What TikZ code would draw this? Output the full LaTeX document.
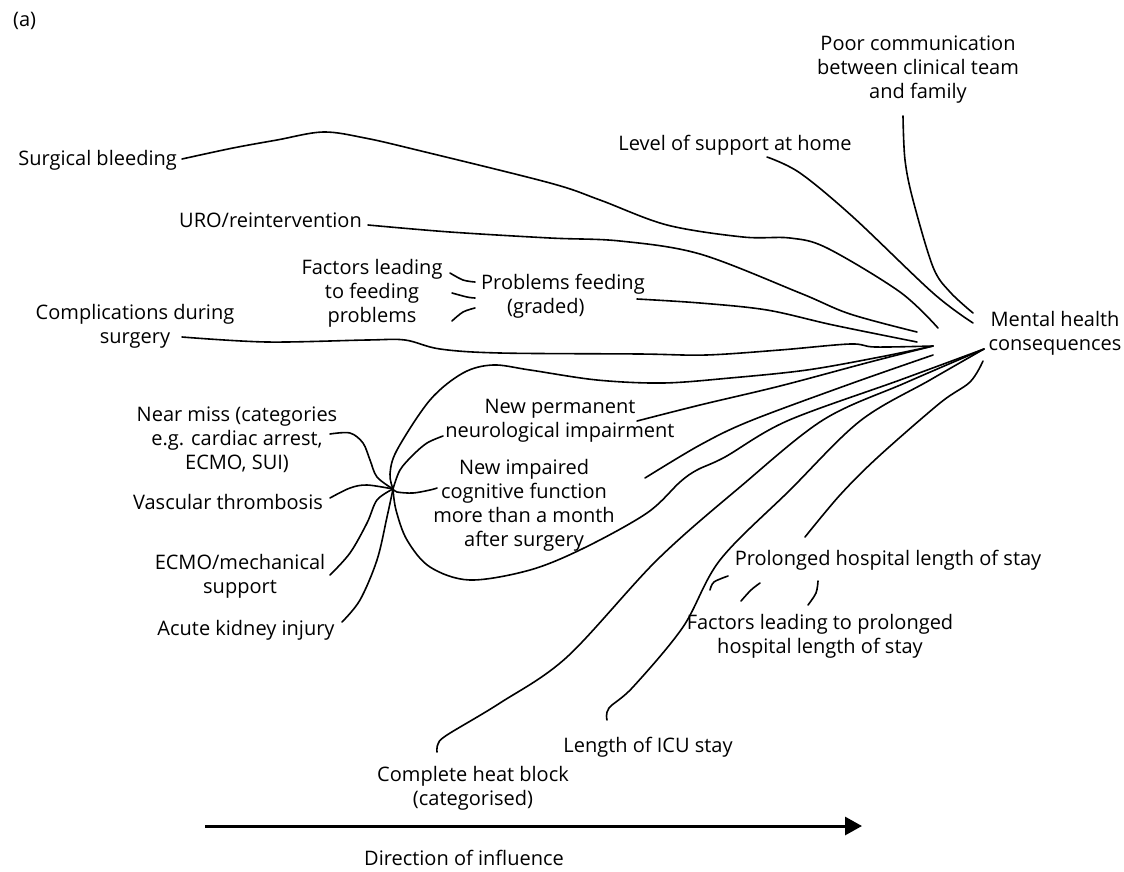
\documentclass[tikz,border=0pt]{standalone}
\usepackage{fontspec}
\setmainfont{Open Sans}
\usetikzlibrary{arrows.meta}
\begin{document}
\begin{tikzpicture}[x=1pt,y=-1pt,
  lbl/.style={font=\fontsize{20}{24}\selectfont, align=center, inner sep=0pt},
  curve/.style={line width=1.6pt, line cap=round, line join=round}]
\useasboundingbox (0,0) rectangle (1124,871);

% ---- labels ----
\node[lbl, anchor=west] (tag) at (13,21) {(a)};
\node[lbl] (poor) at (918,70) {Poor communication\\between clinical team\\and family};
\node[lbl] (level) at (735,145) {Level of support at home};
\node[lbl, anchor=east] (surg) at (177,160) {Surgical bleeding};
\node[lbl, anchor=east] (uro) at (362,220) {URO/reintervention};
\node[lbl] (ffeed) at (372,293) {Factors leading\\to feeding\\problems};
\node[lbl, align=left, anchor=west] (pfeed) at (481,296) {Problems feeding\\\hspace*{26pt}(graded)};
\node[lbl] (compl) at (135,326) {Complications during\\surgery};
\node[lbl] (mental) at (1055,333) {Mental health\\consequences};
\node[lbl] (near) at (237,440) {Near miss (categories\\e.g. cardiac arrest,\\ECMO, SUI)};
\node[lbl] (vasc) at (228,502) {Vascular thrombosis};
\node[lbl] (ecmo) at (240,576) {ECMO/mechanical\\support};
\node[lbl] (aki) at (246,630) {Acute kidney injury};
\node[lbl] (nperm) at (560,421) {New permanent\\neurological impairment};
\node[lbl] (nimp) at (524,505) {New impaired\\cognitive function\\more than a month\\after surgery};
\node[lbl] (prol) at (888,560) {Prolonged hospital length of stay};
\node[lbl] (fprol) at (820,636) {Factors leading to prolonged\\hospital length of stay};
\node[lbl] (icu) at (648,747) {Length of ICU stay};
\node[lbl] (heat) at (473,788) {Complete heat block\\(categorised)};
\node[lbl] (dir) at (464,858) {Direction of influence};

% ---- meeting points ----
\coordinate (hA)  at (933,346);
\coordinate (hA2) at (933,355);
\coordinate (hB)  at (984,349);
\coordinate (hB2) at (983,361);
\coordinate (hC)  at (393,489);

% ---- line ends ----
\coordinate (sbS) at (182,159);  \coordinate (sbE) at (938,328);
\coordinate (urS) at (368,225);  \coordinate (urE) at (917,332);
\coordinate (pfS) at (637,299);  \coordinate (pfE) at (917,342);
\coordinate (cpS) at (182,337);
\coordinate (lvS) at (767,157);  \coordinate (lvE) at (973,323);
\coordinate (pcS) at (903,116);  \coordinate (pcE) at (973,313);
\coordinate (npS) at (637,421);
\coordinate (niS) at (645,478);
\coordinate (hbS) at (437,752);
\coordinate (icS) at (607,720);
\coordinate (prS) at (805,537);
\coordinate (nmS) at (330,434);
\coordinate (vtS) at (330,498);
\coordinate (ecS) at (330,575);
\coordinate (akS) at (342,622);
\coordinate (npH) at (443,436);
\coordinate (niH) at (437,488);

% ---- influences on mental health ----
\draw[curve] plot[smooth, tension=0.55] coordinates {(sbS) (233,148) (277,140) (323,132) (365,138) (417,150) (550,183) (600,200) (667,225) (743,237) (790,238) (827,248) (900,292) (sbE)};
\draw[curve] plot[smooth, tension=0.55] coordinates {(urS) (450,232) (550,238) (620,241) (700,254) (800,293) (850,314) (urE)};
\draw[curve] plot[smooth, tension=0.55] coordinates {(pfS) (700,303) (767,310) (833,325) (pfE)};
\draw[curve] plot[smooth, tension=0.55] coordinates {(cpS) (267,342) (367,340) (405,340) (440,349) (500,353) (640,354) (706,355) (780,350) (850,344) (875,347) (hA)};
\draw[curve] plot[smooth, tension=0.55] coordinates {(hC) (390,474) (397,450) (430,400) (463,373) (493,365) (530,370) (597,380) (663,383) (730,378) (807,370) (880,357) (hA)};
\draw[curve] plot[smooth, tension=0.55] coordinates {(npS) (700,405) (780,386) (870,362) (hA)};
\draw[curve] plot[smooth, tension=0.55] coordinates {(niS) (700,445) (750,421) (850,384) (hA2)};
\draw[curve] plot[smooth, tension=0.55] coordinates {(hC) (396,510) (407,540) (430,567) (470,580) (530,570) (584,548) (647,513) (680,482) (697,470) (725,457) (787,421) (900,380) (hB)};
\draw[curve] plot[smooth, tension=0.55] coordinates {(hbS) (438,744) (447,735) (500,703) (567,657) (657,560) (740,487) (823,420) (905,383) (hB)};
\draw[curve] plot[smooth, tension=0.55] coordinates {(icS) (609,708) (633,687) (683,627) (720,560) (790,490) (860,421) (930,380) (hB)};
\draw[curve] plot[smooth, tension=0.55] coordinates {(prS) (840,495) (878,457) (940,403) (970,382) (hB2)};
\draw[curve] plot[smooth, tension=0.55] coordinates {(lvS) (800,173) (853,217) (933,293) (lvE)};
\draw[curve] plot[smooth, tension=0.55] coordinates {(pcS) (905,160) (913,200) (933,267) (950,292) (pcE)};

% ---- cluster on the left ----
\draw[curve] plot[smooth, tension=0.55] coordinates {(nmS) (350,433) (363,443) (370,460) (377,477) (hC)};
\draw[curve] plot[smooth, tension=0.55] coordinates {(vtS) (350,488) (367,485) (hC)};
\draw[curve] plot[smooth, tension=0.55] coordinates {(ecS) (350,553) (367,523) (377,500) (hC)};
\draw[curve] plot[smooth, tension=0.55] coordinates {(akS) (360,600) (377,560) (387,517) (hC)};
\draw[curve] plot[smooth, tension=0.55] coordinates {(hC) (400,470) (413,455) (427,443) (npH)};
\draw[curve] plot[smooth, tension=0.55] coordinates {(hC) (397,492) (413,493) (430,490) (niH)};

% ---- short strokes: factors ----
\draw[curve] plot[smooth, tension=0.55] coordinates {(450,273) (463,280) (475,282)};
\draw[curve] plot[smooth, tension=0.55] coordinates {(452,293) (467,297) (475,298)};
\draw[curve] plot[smooth, tension=0.55] coordinates {(452,321) (463,312) (475,308)};
\draw[curve] plot[smooth, tension=0.55] coordinates {(710,590) (714,582) (728,576)};
\draw[curve] plot[smooth, tension=0.55] coordinates {(741,601) (751,590) (760,583)};
\draw[curve] plot[smooth, tension=0.55] coordinates {(808,605) (816,593) (818,581)};

% ---- direction arrow ----
\coordinate (arS) at (205,826);
\coordinate (arE) at (862,826);
\draw[line width=3pt, -{Triangle[length=17pt,width=18pt]}] (arS) -- (arE);
\end{tikzpicture}
\end{document}
